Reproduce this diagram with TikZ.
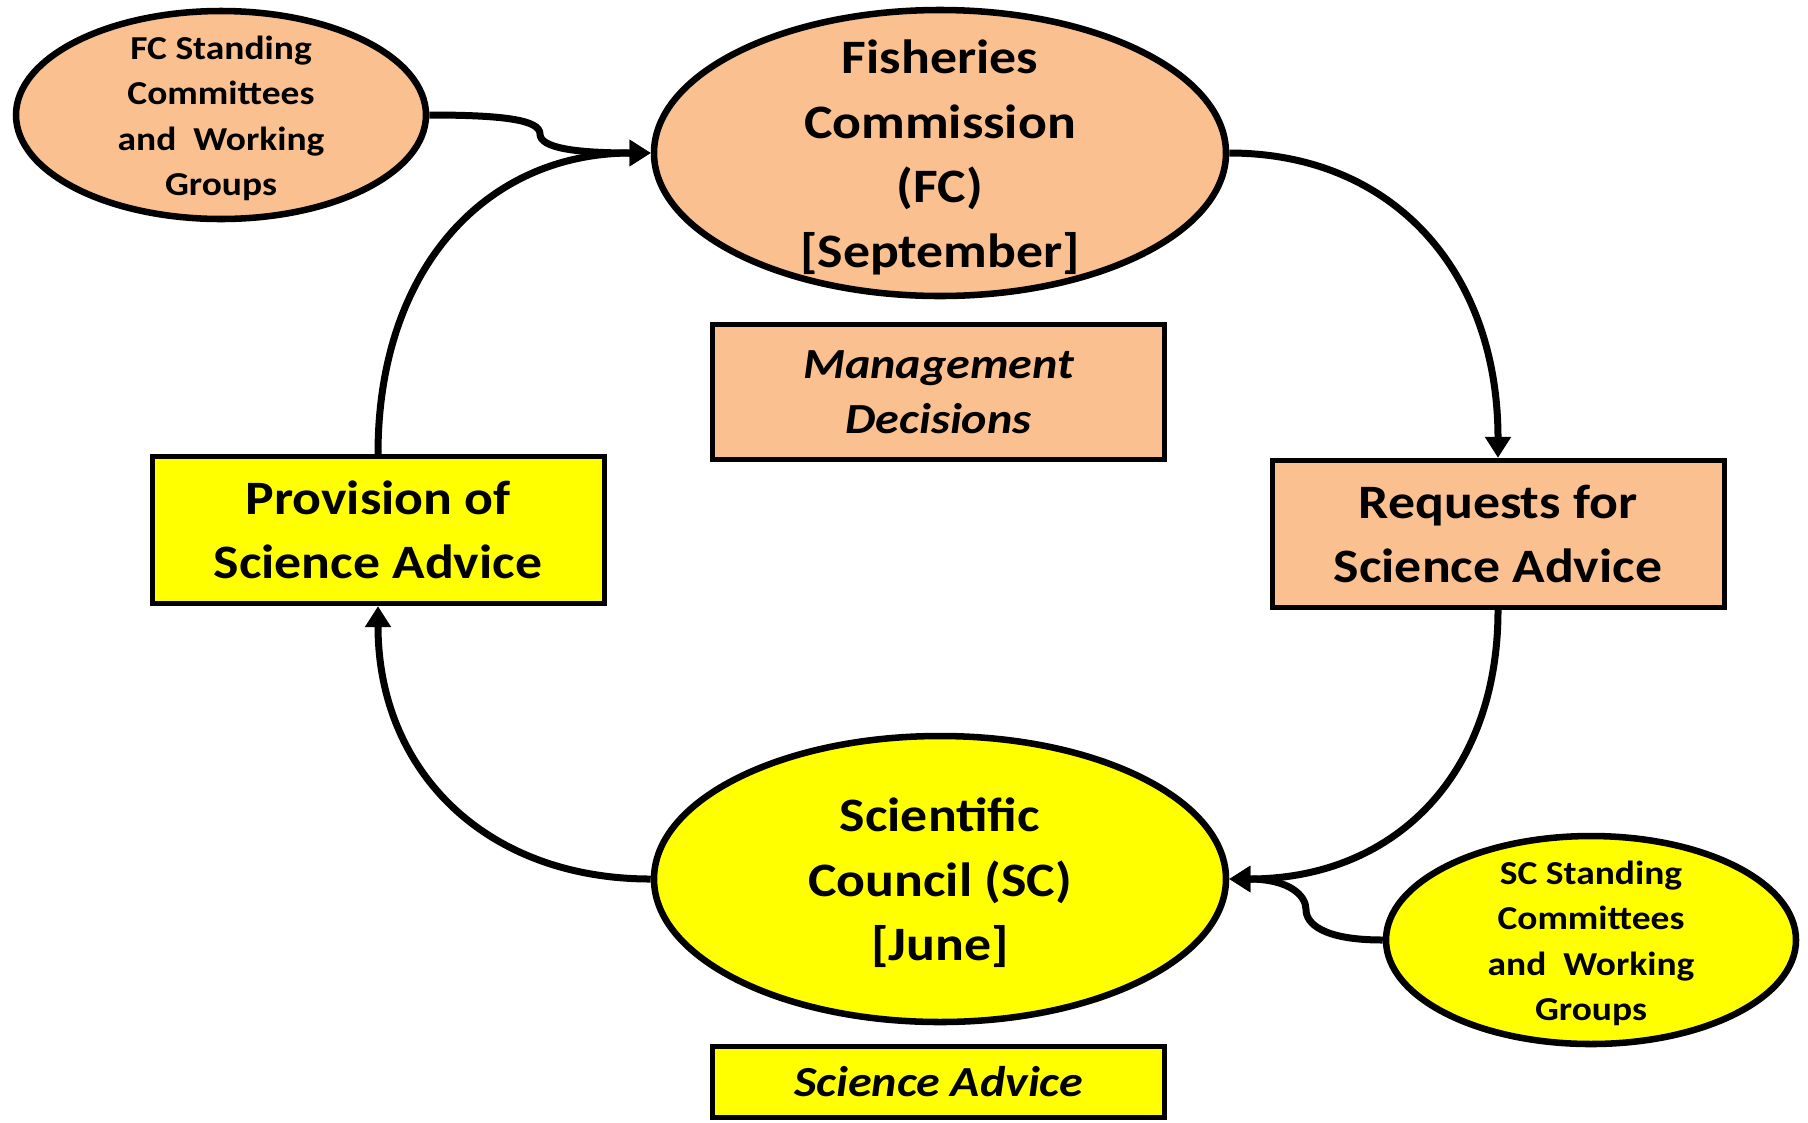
\documentclass[tikz,border=0pt]{standalone}
\usepackage{fontspec}
\setmainfont{Carlito}[FakeStretch=1.12]
\usetikzlibrary{shapes.geometric,arrows.meta,calc}

\definecolor{peach}{RGB}{250,192,144}
\definecolor{lemon}{RGB}{255,255,0}

\tikzset{every picture/.style={line width=4.9pt}}
\tikzset{
  bigbubble/.style={ellipse, draw, inner sep=0pt, minimum width=429pt, minimum height=214.5pt},
  smallbubble/.style={ellipse, draw, inner sep=0pt, minimum width=307.5pt, minimum height=156pt},
  bigtext/.style={inner sep=0pt, align=center, font=\fontsize{36}{48.4}\selectfont\bfseries},
  smalltext/.style={inner sep=0pt, align=center, font=\fontsize{25.1}{34}\selectfont\bfseries},
  actionbox/.style={rectangle, draw, line width=3.75pt, inner sep=0pt, align=center, minimum width=339pt, minimum height=110.5pt, font=\fontsize{36}{48.4}\selectfont\bfseries},
  notebox/.style={rectangle, draw, line width=3.75pt, inner sep=0pt, align=center, minimum width=339pt, font=\fontsize{32.2}{41}\selectfont\bfseries\itshape},
  link/.style={line width=5.25pt, -{Triangle[length=15.75pt,width=18.75pt]}}
}

\begin{document}
\begin{tikzpicture}[x=0.75pt,y=0.75pt,yscale=-1,xscale=1]
\useasboundingbox (0,0) rectangle (1808,1122);

%Shape: Ellipse
\node [smallbubble, fill=peach] (fcwg) at (221,115) {};
\node [smalltext] (fcwg-text) at (221,118.5) {FC Standing\\Committees\\and~ Working\\Groups};
%Shape: Ellipse
\node [bigbubble, fill=peach] (fc) at (940,153) {};
\node [bigtext] (fc-text) at (940,157.5) {Fisheries\\Commission\\(FC)\\{[September]}};
% Text Node
\node [notebox, fill=peach, minimum height=101.25pt] (mgmt) at (938.5,392) {Management\\Decisions};
% Text Node
\node [actionbox, fill=peach] (req) at (1498,534) {Requests for\\Science Advice};
% Text Node
\node [actionbox, fill=lemon] (prov) at (378,530) {Provision of\\Science Advice};
%Shape: Ellipse
\node [bigbubble, fill=lemon] (sc) at (940,879) {};
\node [bigtext] (sc-text) at (940,883) {Scientific\\Council (SC)\\{[June]}};
%Shape: Ellipse
\node [smallbubble, fill=lemon] (scwg) at (1591,940) {};
\node [smalltext] (scwg-text) at (1591,943.5) {SC Standing\\Committees\\and~ Working\\Groups};
% Text Node
\node [notebox, fill=lemon, minimum height=53.25pt] (sci) at (938.5,1082) {Science Advice};

%Curve Lines
\draw [link] (fcwg.east) .. controls +(75,0) and +(0,-14) .. ($(fcwg.east)!0.5!(fc.west)$) .. controls +(0,14) and +(-75,0) .. (fc.west);
\draw [link] (prov.north) .. controls +(0,-185) and +(-165,0) .. (fc.west);
\draw [link] (fc.east) .. controls +(165,0) and +(0,-185) .. (req.north);
\draw [link] (req.south) .. controls +(0,165) and +(165,0) .. (sc.east);
\draw [link] (scwg.west) .. controls +(-60,0) and +(0,14) .. ($(scwg.west)!0.5!(sc.east)$) .. controls +(0,-14) and +(60,0) .. (sc.east);
\draw [link] (sc.west) .. controls +(-165,0) and +(0,165) .. (prov.south);

\end{tikzpicture}
\end{document}
